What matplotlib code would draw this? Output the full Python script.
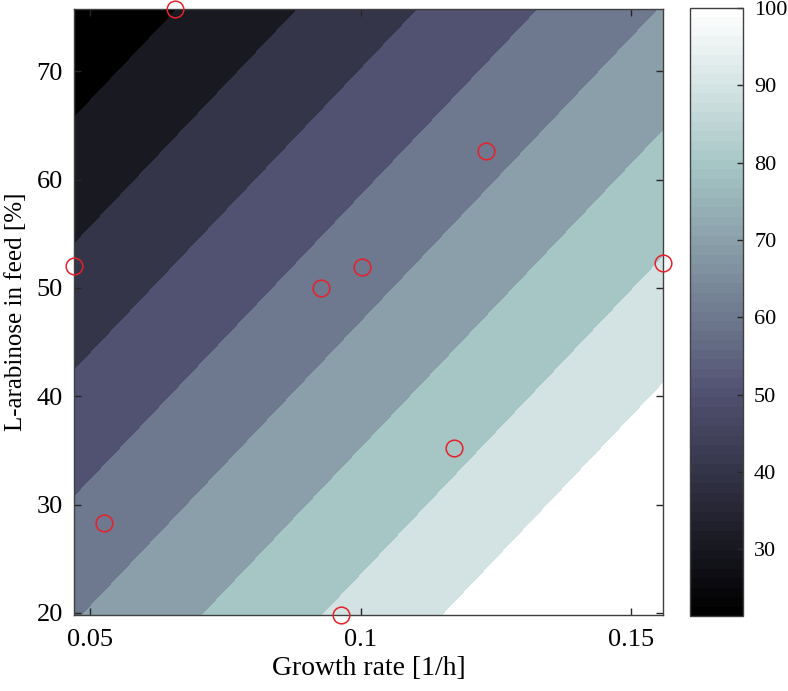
import numpy as np
import matplotlib
matplotlib.use("Agg")
import matplotlib.pyplot as plt
from matplotlib import cm, colors

plt.rcParams['font.family'] = ['Liberation Serif', 'DejaVu Serif']
plt.rcParams['font.size'] = 19

# surface values at the corners of the plotted region
growth_edges = [0.0470, 0.1559]
arabinose_edges = [19.8, 75.75]
surface = [[69.3, 118.3],
           [21.4, 70.35]]
levels = [30, 40, 50, 60, 70, 80, 90, 100]

# measured points
growth = [0.0656, 0.0470, 0.1232, 0.0926, 0.1002, 0.1559, 0.1173, 0.0526, 0.0963]
arabinose = [75.75, 52.0, 62.6, 50.0, 51.9, 52.3, 35.2, 28.3, 19.8]

X, Y = np.meshgrid(growth_edges, arabinose_edges)
Z = np.array(surface)

cmap = plt.get_cmap('bone', 64)
norm = colors.Normalize(vmin=Z.min(), vmax=100)
# matlab style: each band coloured by its lower level
band_colors = [cmap(norm(l)) for l in [20] + levels]

fig = plt.figure(figsize=(7.88, 6.91), dpi=100)
ax = fig.add_axes([0.0939, 0.110, 0.7475, 0.877])
cax = fig.add_axes([0.8756, 0.1085, 0.0673, 0.880])

ax.contourf(X, Y, Z, levels=levels, colors=band_colors, extend='both')
ax.plot(growth, arabinose, 'o', mfc='none', mec='#e8202a', ms=12, mew=1.1,
        linestyle='none', clip_on=False, zorder=5)

ax.set_xlim(growth_edges)
ax.set_ylim(arabinose_edges)
ax.set_xticks([0.05, 0.1, 0.15])
ax.set_xticklabels(["0.05", "0.1", "0.15"])
ax.set_yticks([20, 30, 40, 50, 60, 70])
ax.tick_params(direction='in', length=5, width=1, color='#262626',
               top=True, right=True, labelsize=19)
ax.tick_params(axis='x', pad=10)
ax.tick_params(axis='y', pad=8)
for s in ax.spines.values():
    s.set_color('#404040')
    s.set_linewidth(1)
ax.set_xlabel("Growth rate [1/h]", fontsize=20, labelpad=4)
ax.set_ylabel("L-arabinose in feed [%]", fontsize=18, labelpad=7)

sm = cm.ScalarMappable(norm=norm, cmap=cmap)
cb = fig.colorbar(sm, cax=cax, ticks=[30, 40, 50, 60, 70, 80, 90, 100])
cb.ax.tick_params(direction='in', length=4, width=1, color='#262626',
                  labelsize=16, pad=8)
cb.outline.set_edgecolor('#404040')
cb.outline.set_linewidth(1)

fig.savefig("out.png", dpi=100)
